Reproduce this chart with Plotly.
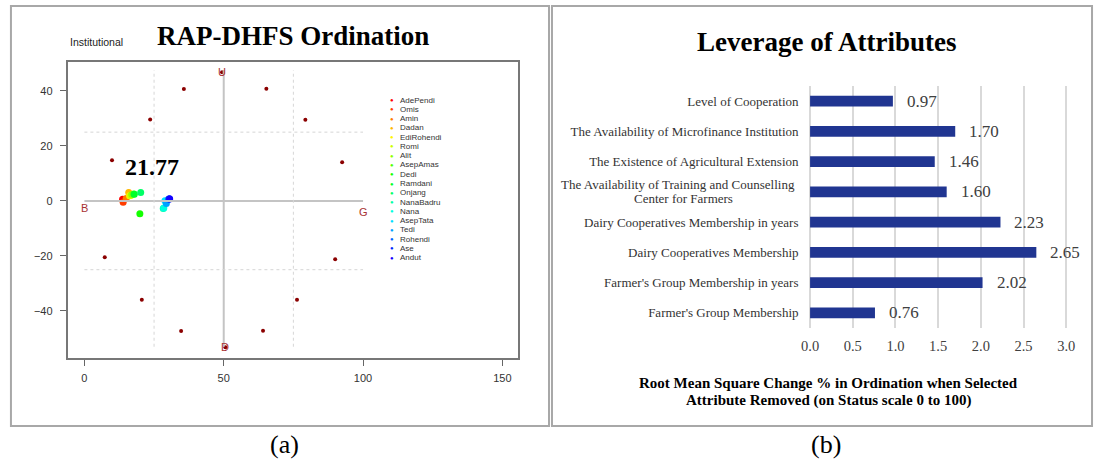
import plotly.graph_objects as go

# figure is laid out in screen pixels, converted to paper coords below
W, H = 1099, 462

# ---- panel (a): RAP-DHFS ordination ----
farmers = ["AdePendi", "Omis", "Amin", "Dadan", "EdiRohendi", "Romi", "Alit",
           "AsepAmas", "Dedi", "Ramdani", "Onjang", "NanaBadru", "Nana",
           "AsepTata", "Tedi", "Rohendi", "Ase", "Andut"]
farmer_x = [13.7, 13.9, 15.0, 15.9, 16.2, 16.6, 17.0, 17.7, 19.9, 17.9, 20.2,
            28.3, 28.5, 28.9, 29.4, 30.2, 30.5, 30.6]
farmer_y = [0.6, -0.5, 0.9, 3.1, 1.9, 2.0, 2.3, 2.5, -4.7, 2.4, 3.1,
            -2.8, -2.6, 0.1, -0.9, 0.6, 0.8, 0.7]
farmer_colors = ["#FF0000", "#FF3D00", "#FF7A00", "#FFB800", "#FFF500", "#CCFF00",
                 "#8FFF00", "#52FF00", "#14FF00", "#00FF29", "#00FF66", "#00FFA3",
                 "#00FFE0", "#00E0FF", "#00A3FF", "#0066FF", "#0029FF", "#1400FF"]

# reference (anchor / monte carlo) points, dark red dots
ref_x = [35.7, 65.3, 23.6, 79.3, 9.9, 92.5, 7.3, 90.0, 20.6, 76.3, 34.7, 64.1, 49.4, 50.6]
ref_y = [40.7, 40.8, 29.6, 29.5, 14.8, 14.1, -20.5, -21.2, -35.9, -35.9, -47.3, -47.2, 46.8, -53.2]
anchor_labels = ["B", "G", "U", "D"]
anchor_x = [0, 100, 49.4, 50.6]
anchor_y = [-2.6, -4.0, 46.8, -53.2]
index_value = 21.77

x_ticks_a = [0, 50, 100, 150]
y_ticks_a = [-40, -20, 0, 20, 40]

# ---- panel (b): leverage of attributes (bottom to top) ----
attributes = ["Farmer's Group Membership",
              "Farmer's Group Membership in years",
              "Dairy Cooperatives Membership",
              "Dairy Cooperatives Membership in years",
              "The Availability of Training and Counselling Center for Farmers",
              "The Existence of Agricultural Extension",
              "The Availability of Microfinance Institution",
              "Level of Cooperation"]
rms_change = [0.76, 2.02, 2.65, 2.23, 1.60, 1.46, 1.70, 0.97]
x_ticks_b = [0.0, 0.5, 1.0, 1.5, 2.0, 2.5, 3.0]

SERIF = "Liberation Serif"
SANS = "Liberation Sans"


def px(x):
    return x / W


def py(y):
    return 1 - y / H


def note(text, x, y, size, color="black", family=SERIF, xanchor="center", **kw):
    # text placed in page pixels
    return dict(text=text, x=px(x), y=py(y), xref="paper", yref="paper",
                xanchor=xanchor, yanchor="middle", showarrow=False,
                font=dict(family=family, size=size, color=color), **kw)


fig = go.Figure()

fig.add_trace(go.Scatter(x=ref_x, y=ref_y, mode="markers", xaxis="x", yaxis="y",
                         marker=dict(size=4, color="#8B0000"), hoverinfo="skip"))
fig.add_trace(go.Scatter(x=farmer_x, y=farmer_y, mode="markers", xaxis="x", yaxis="y",
                         text=farmers, marker=dict(size=7, color=farmer_colors)))
fig.add_trace(go.Bar(x=rms_change, y=attributes, orientation="h", xaxis="x2", yaxis="y2",
                     width=0.36, marker=dict(color="#203591", line=dict(width=0))))

shapes = []
# panel borders
for x0, x1 in [(7, 549), (552, 1096)]:
    shapes.append(dict(type="rect", xref="paper", yref="paper", x0=px(x0), x1=px(x1),
                       y0=py(426), y1=py(6), line=dict(color="#A8A8A8", width=2)))
# ordination reference lines
shapes.append(dict(type="line", xref="x", yref="y", x0=0, x1=100, y0=0, y1=0,
                   line=dict(color="#C4C4C4", width=2)))
shapes.append(dict(type="line", xref="x", yref="y", x0=50, x1=50, y0=-53, y1=47.5,
                   line=dict(color="#C4C4C4", width=2)))
for xv in [25, 75]:
    shapes.append(dict(type="line", xref="x", yref="y", x0=xv, x1=xv, y0=-53, y1=47.5,
                       line=dict(color="#D6D6D6", width=1, dash="dot")))
for yv in [25, -25]:
    shapes.append(dict(type="line", xref="x", yref="y", x0=0, x1=100, y0=yv, y1=yv,
                       line=dict(color="#D6D6D6", width=1, dash="dot")))

ann = []
ann.append(note("<b>RAP-DHFS Ordination</b>", 291, 36, 27))
ann.append(note("Institutional", 64, 42, 10.5, color="#222", family=SANS, xanchor="left"))
ann.append(dict(text="<b>%.2f</b>" % index_value, x=24.4, y=12.4, xref="x", yref="y",
                xanchor="center", yanchor="middle", showarrow=False,
                font=dict(family=SERIF, size=24, color="black")))
for lab, ax, ay in zip(anchor_labels, anchor_x, anchor_y):
    ann.append(dict(text=lab, x=ax, y=ay, xref="x", yref="y", showarrow=False,
                    xanchor="center", yanchor="middle",
                    font=dict(family=SANS, size=11, color="#A83232")))
# legend of farmers
for i, (name, col) in enumerate(zip(farmers, farmer_colors)):
    yy = 100 + i * 9.28
    ann.append(note("●", 391, yy, 6, color=col, family=SANS))
    ann.append(note(name, 397, yy, 8, color="#333", family=SANS, xanchor="left"))

ann.append(note("<b>Leverage of Attributes</b>", 829, 42, 27))
for v, a in zip(rms_change, attributes):
    ann.append(dict(text="%.2f" % v, x=v, y=a, xref="x2", yref="y2", xanchor="left",
                    yanchor="middle", xshift=12, showarrow=False,
                    font=dict(family=SERIF, size=17, color="#404040")))
# two-line category label, centred like the original
ann.append(note("The Availability of Training and Counselling", 799, 184.5, 13,
                color="#333", xanchor="right"))
ann.append(note("Center for Farmers", 684, 198, 13, color="#333"))
ann.append(note("<b>Root Mean Square Change % in Ordination when Selected</b>", 831, 383, 15))
ann.append(note("<b>Attribute Removed (on Status scale 0 to 100)</b>", 831, 400, 15))
ann.append(note("(a)", 283, 444, 26))
ann.append(note("(b)", 828, 444, 26))

tick_text_b = ["" if "Training" in a else a for a in attributes]

fig.update_layout(
    width=W, height=H, margin=dict(l=0, r=0, t=0, b=0),
    paper_bgcolor="white", plot_bgcolor="white", showlegend=False,
    xaxis=dict(domain=[px(64), px(518)], range=[-6.06, 155.7], anchor="y",
               tickvals=x_ticks_a, ticks="outside", ticklen=6, tickcolor="#666",
               ticklabelstandoff=3,
               showline=True, mirror=True, linecolor="#777", linewidth=1.5,
               showgrid=False, zeroline=False,
               tickfont=dict(family=SANS, size=11, color="#333")),
    yaxis=dict(domain=[py(358), py(62)], range=[-57.1, 50.5], anchor="x",
               tickvals=y_ticks_a, ticks="outside", ticklen=6, tickcolor="#666",
               ticklabelstandoff=5,
               showline=True, mirror=True, linecolor="#777", linewidth=1.5,
               showgrid=False, zeroline=False,
               tickfont=dict(family=SANS, size=11, color="#333")),
    xaxis2=dict(domain=[px(807), px(1075)], range=[-0.058, 3.058], anchor="y2",
                tickvals=x_ticks_b, tickformat=".1f", ticks="outside", ticklen=5,
                tickcolor="rgba(0,0,0,0)", showline=False, zeroline=False,
                showgrid=True, gridcolor="#D9D9D9", gridwidth=1.5,
                tickfont=dict(family=SERIF, size=14.5, color="#404040")),
    yaxis2=dict(domain=[py(328), py(86)], range=[-0.5, 7.5], anchor="x2",
                type="category", categoryorder="array", categoryarray=attributes,
                tickvals=attributes, ticktext=tick_text_b,
                ticks="outside", ticklen=3, tickcolor="rgba(0,0,0,0)",
                showline=False, showgrid=False, zeroline=False,
                tickfont=dict(family=SERIF, size=13, color="#333")),
    shapes=shapes, annotations=ann,
)

# drop the default page margin so the figure sits at the window's corner
fig.write_html("out.html", config={"displayModeBar": False},
               post_script="document.body.style.margin='0';")
